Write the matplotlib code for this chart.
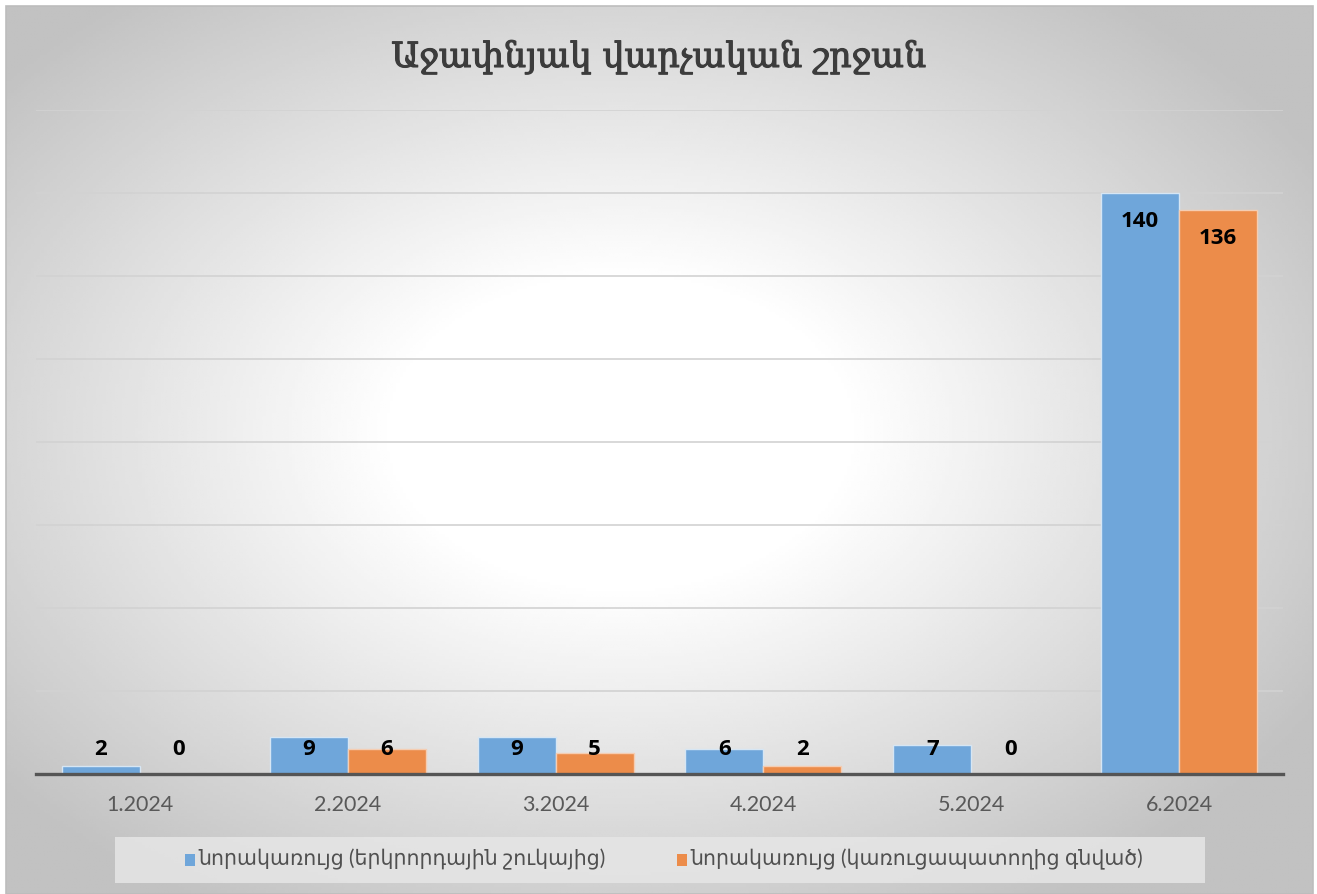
import numpy as np
import matplotlib.pyplot as plt
import matplotlib.patheffects as pe
from matplotlib.patches import Rectangle

# data
months = ["1.2024", "2.2024", "3.2024", "4.2024", "5.2024", "6.2024"]
secondary = [2, 9, 9, 6, 7, 140]
newbuild = [0, 6, 5, 2, 0, 136]
series_names = ["նորակառույց (երկրորդային շուկայից)", "նորակառույց (կառուցապատողից գնված)"]
title = "Աջափնյակ վարչական շրջան"

blue = "#6FA6DA"
orange = "#EC8C4A"
W, H = 1317, 894

fig = plt.figure(figsize=(W / 100, H / 100), dpi=100)
fig.patch.set_facecolor("white")

# radial gradient background of the chart area
x0, x1, ytop = 6, 1313, 6
bg = fig.add_axes([x0 / W, 0, (x1 - x0) / W, (H - ytop) / H], zorder=0)
gx, gy = np.meshgrid(np.linspace(0, 1, 400), np.linspace(0, 1, 300))
t = np.sqrt(((gx - 0.47) / 0.62) ** 2 + ((gy - 0.48) / 0.62) ** 2)
t = np.clip((t - 0.28) / 0.72, 0, 1)
shade = 1.0 - 0.24 * t
bg.imshow(shade, cmap="gray", vmin=0, vmax=1, aspect="auto", extent=[0, 1, 0, 1])
bg.set_xlim(0, 1)
bg.set_ylim(0, 1)
bg.axis("off")
fig.add_artist(Rectangle((x0 / W, 0), (x1 - x0) / W, (H - ytop) / H, transform=fig.transFigure,
                         fill=False, edgecolor="#BDBDBD", linewidth=1.2, zorder=1))

ax = fig.add_axes([36 / W, 1 - 774 / H, (1283 - 36) / W, (774 - 110) / H], zorder=2)
ax.patch.set_alpha(0)
x = np.arange(len(months))
w = 0.375
ax.bar(x - w / 2, secondary, w, color=blue, edgecolor="#D6E6F4", linewidth=1, zorder=3)
ax.bar(x + w / 2, newbuild, w, color=orange, edgecolor="#F5CDB2", linewidth=1, zorder=3)

for i in range(len(months)):
    for xi, v in ((x[i] - w / 2, secondary[i]), (x[i] + w / 2, newbuild[i])):
        ax.text(xi, max(v - 6.9, 5.8), str(v), ha="center", va="center",
                fontsize=16, fontweight="bold", family="Open Sans", color="black", zorder=4)

ax.set_xlim(-0.5, 5.5)
ax.set_ylim(0, 160)
ax.set_yticks(np.arange(20, 161, 20))
ax.yaxis.grid(True, color="#D2D2D2", linewidth=1.2, zorder=1)
ax.set_yticklabels([])
ax.tick_params(axis="y", length=0)
ax.set_xticks(x)
ax.set_xticklabels(months, fontsize=15.5, family="Lato", color="#595959")
ax.tick_params(axis="x", length=0, pad=15)
for s in ["top", "right", "left"]:
    ax.spines[s].set_visible(False)
ax.spines["bottom"].set_color("#555555")
ax.spines["bottom"].set_linewidth(2.4)
ax.spines["bottom"].set_zorder(5)

fig.text(659 / W, 1 - 57 / H, title, ha="center", va="center", fontsize=25,
         family=["DejaVu Serif", "DejaVu Sans"], color="#3C3C3C",
         path_effects=[pe.withStroke(linewidth=0.8, foreground="#3C3C3C")])

# legend box
fig.add_artist(Rectangle((115 / W, 1 - 883 / H), (1205 - 115) / W, 46 / H, transform=fig.transFigure,
                         facecolor="#E6E6E6", edgecolor="none", alpha=0.85, zorder=3))
for mx, col, name in ((185, blue, series_names[0]), (677, orange, series_names[1])):
    fig.add_artist(Rectangle((mx / W, 1 - 866 / H), 10 / W, 12 / H, transform=fig.transFigure,
                             facecolor=col, edgecolor="none", zorder=4))
    fig.text((mx + 13) / W, 1 - 859 / H, name, ha="left", va="center", fontsize=14.8,
             family=["Lato", "DejaVu Sans"], color="#505050", zorder=4)

fig.savefig("out.png", dpi=100)
